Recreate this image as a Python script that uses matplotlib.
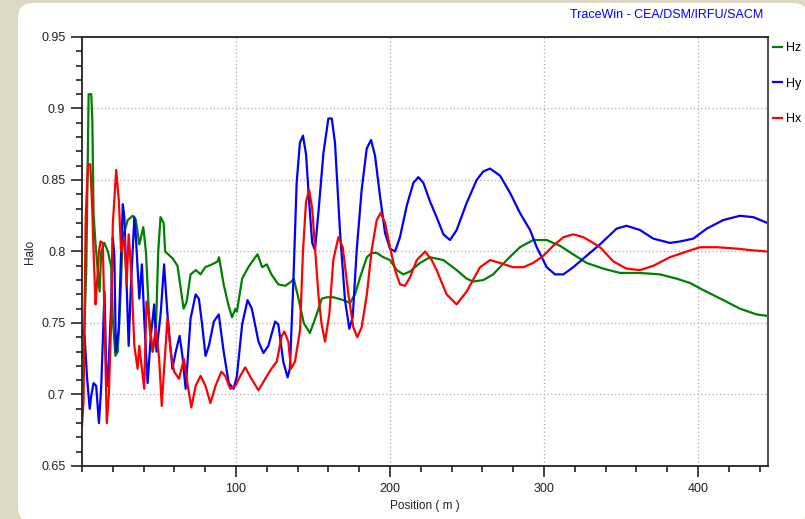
import matplotlib
matplotlib.use("Agg")
import matplotlib.pyplot as plt
from matplotlib.patches import FancyBboxPatch
from matplotlib.transforms import IdentityTransform
from matplotlib.ticker import MultipleLocator

# Halo parameters along the linac
hz_pos = [0, 1, 2.8, 4.3, 6, 6.7, 7.5, 8.8, 11.4, 12.5, 14.6, 16.8, 19, 20, 21.7, 23.2,
          24.3, 26.5, 29.7, 33, 35, 37.2, 39.8, 41.5, 44, 46, 48, 49.5, 51, 53, 54, 59,
          62, 66, 68, 70.5, 74, 77, 80, 84.5, 88, 89, 92, 95, 97.4, 99.6, 100.6, 104,
          108, 112.5, 114, 117, 120, 123, 127.5, 132, 136, 137.5, 140.4, 144, 148, 152.4,
          155.7, 159, 163.2, 169.7, 174, 177.3, 180.6, 185, 188.1, 191.4, 195.7, 200,
          204.4, 208.7, 213, 219.5, 226, 234.7, 243.3, 249.8, 254, 260.6, 267, 275.8,
          284.4, 293, 301.8, 310.4, 319, 327.7, 338.6, 349.4, 362.4, 375.4, 386.2, 394.8,
          403.5, 416.5, 427.3, 438.1, 445]
hz_val = [0.73, 0.726, 0.789, 0.91, 0.91, 0.892, 0.826, 0.805, 0.772, 0.80, 0.806, 0.80,
          0.789, 0.753, 0.727, 0.73, 0.753, 0.81, 0.822, 0.825, 0.822, 0.805, 0.817, 0.80,
          0.745, 0.73, 0.745, 0.80, 0.824, 0.82, 0.80, 0.795, 0.79, 0.76, 0.765, 0.784,
          0.787, 0.784, 0.789, 0.791, 0.793, 0.796, 0.777, 0.763, 0.754, 0.76, 0.758, 0.781,
          0.789, 0.796, 0.798, 0.789, 0.791, 0.784, 0.777, 0.776, 0.779, 0.781, 0.768, 0.75,
          0.743, 0.756, 0.767, 0.768, 0.768, 0.766, 0.764, 0.77, 0.782, 0.796, 0.799, 0.799,
          0.796, 0.794, 0.787, 0.784, 0.786, 0.792, 0.796, 0.794, 0.787, 0.781, 0.779, 0.78,
          0.784, 0.794, 0.803, 0.808, 0.808, 0.804, 0.798, 0.792, 0.788, 0.785, 0.785, 0.784,
          0.781, 0.778, 0.773, 0.766, 0.760, 0.756, 0.755]

hy_pos = [0, 1.7, 3.2, 5, 6, 7.5, 9.2, 11, 12.5, 13.5, 14.6, 15.7, 16.8, 19, 20, 21, 22,
          23.9, 25.4, 26.5, 27.5, 28.6, 30.3, 31.8, 34, 35, 37.2, 38.9, 40.4, 42.6, 44.7,
          46.9, 48.4, 51.2, 53.3, 55.5, 58.7, 60.9, 63.4, 65.2, 67.3, 70.5, 73.8, 75.9, 78,
          80.2, 82.4, 85.6, 88.8, 92, 95.3, 98.5, 100.6, 104, 107.5, 110.3, 114.6, 117.8,
          121, 125.4, 127.5, 130.7, 133.5, 135, 137.2, 139.4, 141.5, 143.5, 145.5, 147.5,
          149.5, 151.3, 153.5, 156.8, 160, 162.2, 164.3, 167.6, 170.8, 173.6, 175.8, 178.4,
          181.6, 184.9, 187.7, 190.3, 193.5, 196.8, 200, 203.3, 206.5, 210.9, 215.2, 218.4,
          221.7, 226, 230.3, 234.7, 239, 243.3, 249.8, 256.3, 260.6, 265, 271.5, 278, 284.4,
          291, 295.3, 301.8, 307.2, 312.6, 319, 327.7, 336.4, 347.2, 353.7, 362.4, 371,
          381.8, 388.3, 397, 405.7, 416.5, 427.3, 436, 445]
hy_val = [0.745, 0.741, 0.713, 0.69, 0.699, 0.708, 0.706, 0.68, 0.706, 0.737, 0.772, 0.72,
          0.706, 0.765, 0.81, 0.797, 0.73, 0.746, 0.80, 0.833, 0.824, 0.789, 0.734, 0.777,
          0.824, 0.81, 0.767, 0.791, 0.753, 0.708, 0.741, 0.763, 0.73, 0.758, 0.791, 0.756,
          0.718, 0.73, 0.741, 0.727, 0.704, 0.753, 0.77, 0.767, 0.749, 0.727, 0.734, 0.751,
          0.756, 0.73, 0.708, 0.704, 0.713, 0.749, 0.766, 0.76, 0.737, 0.729, 0.734, 0.751,
          0.749, 0.723, 0.712, 0.718, 0.777, 0.848, 0.876, 0.881, 0.868, 0.835, 0.806, 0.801,
          0.827, 0.869, 0.893, 0.893, 0.876, 0.813, 0.766, 0.746, 0.754, 0.801, 0.843, 0.872,
          0.878, 0.867, 0.839, 0.813, 0.802, 0.80, 0.81, 0.832, 0.848, 0.852, 0.848, 0.835,
          0.824, 0.812, 0.808, 0.815, 0.834, 0.85, 0.856, 0.858, 0.853, 0.841, 0.827, 0.815,
          0.803, 0.789, 0.784, 0.784, 0.789, 0.797, 0.805, 0.816, 0.818, 0.815, 0.809, 0.806,
          0.807, 0.809, 0.816, 0.822, 0.825, 0.824, 0.82]

hx_pos = [0, 1, 2.4, 3.9, 5.4, 6.7, 7.5, 8.8, 9.7, 11, 12, 13.5, 14.6, 16.1, 17.4, 19, 20,
          22.2, 23.9, 25.4, 27.5, 29, 30.3, 31.8, 34, 36.1, 37.2, 38.9, 40.4, 41.9, 43.7,
          45.8, 48, 50.1, 51.8, 53.3, 55.5, 57.6, 59.8, 63, 66.2, 68.4, 71, 73.8, 77, 80.2,
          83.4, 86.7, 90.5, 93, 96.3, 99.6, 102.8, 106, 110, 114.6, 119, 123, 126.5, 129.7,
          131.4, 134, 135.7, 138.3, 141.6, 143.5, 145.5, 147.5, 149.5, 151.5, 153.5, 155.5,
          157.8, 160.6, 163.2, 166.5, 169.3, 173, 176.2, 178.8, 181.6, 185, 188.1, 191.4,
          194, 196.8, 200, 203.3, 206.5, 209.8, 213, 217.4, 222.8, 227.1, 230.3, 236.8,
          243.3, 249.8, 258.5, 265, 271.5, 280, 286.6, 293, 299.6, 306, 312.6, 319, 325.6,
          332, 336.4, 345.1, 353.7, 362.4, 371, 381.8, 392.7, 401.3, 412.2, 425.1, 433.8, 445]
hx_val = [0.678, 0.695, 0.824, 0.861, 0.861, 0.829, 0.80, 0.763, 0.777, 0.80, 0.807, 0.806,
          0.753, 0.68, 0.699, 0.753, 0.819, 0.857, 0.836, 0.80, 0.81, 0.777, 0.812, 0.789,
          0.734, 0.718, 0.734, 0.718, 0.704, 0.765, 0.753, 0.73, 0.746, 0.725, 0.692, 0.718,
          0.753, 0.73, 0.716, 0.711, 0.725, 0.708, 0.691, 0.706, 0.713, 0.706, 0.694, 0.706,
          0.716, 0.713, 0.704, 0.706, 0.713, 0.719, 0.711, 0.703, 0.711, 0.718, 0.723, 0.741,
          0.744, 0.737, 0.718, 0.723, 0.745, 0.80, 0.835, 0.843, 0.83, 0.80, 0.77, 0.75,
          0.737, 0.756, 0.794, 0.81, 0.803, 0.77, 0.747, 0.74, 0.747, 0.77, 0.801, 0.822,
          0.827, 0.82, 0.803, 0.787, 0.777, 0.776, 0.782, 0.794, 0.80, 0.794, 0.787, 0.77,
          0.763, 0.772, 0.789, 0.794, 0.792, 0.789, 0.789, 0.792, 0.797, 0.804, 0.81, 0.812,
          0.81, 0.806, 0.803, 0.793, 0.788, 0.787, 0.79, 0.796, 0.80, 0.803, 0.803, 0.802,
          0.801, 0.80]

x_ticks = [100, 200, 300, 400]
y_ticks = [0.65, 0.7, 0.75, 0.8, 0.85, 0.9, 0.95]
y_tick_labels = ["0.65", "0.7", "0.75", "0.8", "0.85", "0.9", "0.95"]

plt.rcParams["font.family"] = ["Liberation Sans", "DejaVu Sans"]

fig = plt.figure(figsize=(8.05, 5.19), dpi=100)
fig.patch.set_facecolor("#ddd8c3")
# white rounded panel over the beige window background
panel = FancyBboxPatch((18, -3), 790, 519, boxstyle="round,pad=0,rounding_size=15",
                       transform=IdentityTransform(), facecolor="white",
                       edgecolor="none", zorder=-1)
fig.add_artist(panel)

ax = fig.add_axes([82 / 805, 1 - 466 / 519, (768 - 82) / 805, (466 - 37) / 519])
ax.set_facecolor("white")

ax.plot(hz_pos, hz_val, color="#008000", lw=1.6, label="Hz")
ax.plot(hy_pos, hy_val, color="#0000ff", lw=1.6, label="Hy")
ax.plot(hx_pos, hx_val, color="#ff0000", lw=1.6, label="Hx")

ax.set_xlim(0, 445.5)
ax.set_ylim(0.65, 0.95)
ax.set_xticks(x_ticks)
ax.xaxis.set_minor_locator(MultipleLocator(20))
ax.set_yticks(y_ticks)
ax.set_yticklabels(y_tick_labels)
ax.yaxis.set_minor_locator(MultipleLocator(0.01))

ax.tick_params(which="major", direction="out", length=8, width=1.2, colors="#222222",
               labelsize=9, pad=4)
ax.tick_params(which="minor", direction="out", length=4.5, width=1.2, colors="#222222")
ax.grid(which="major", color="#aaaaaa", linestyle=(0, (1, 2)), linewidth=0.9)
for side in ["left", "bottom", "top"]:
    ax.spines[side].set_color("#222222")
    ax.spines[side].set_linewidth(1.3)
ax.spines["right"].set_color("#555555")
ax.spines["right"].set_linewidth(1.5)

fig.text(667 / 805, 1 - 15 / 519, "TraceWin - CEA/DSM/IRFU/SACM", color="#0000ff",
         fontsize=9, ha="center", va="center")
fig.text(425 / 805, 1 - 506 / 519, "Position ( m )", fontsize=8.5, ha="center",
         va="center", color="#222222")
fig.text(30 / 805, 1 - 252 / 519, "Halo", fontsize=8.5, rotation=90, ha="center",
         va="center", color="#222222")

ax.legend(loc="upper left", bbox_to_anchor=(1.0, 1.0), borderaxespad=0, frameon=False,
          fontsize=9, handlelength=0.75, handletextpad=0.3, labelspacing=1.9,
          borderpad=0.4)

fig.savefig("out.png", dpi=100, facecolor=fig.get_facecolor())
